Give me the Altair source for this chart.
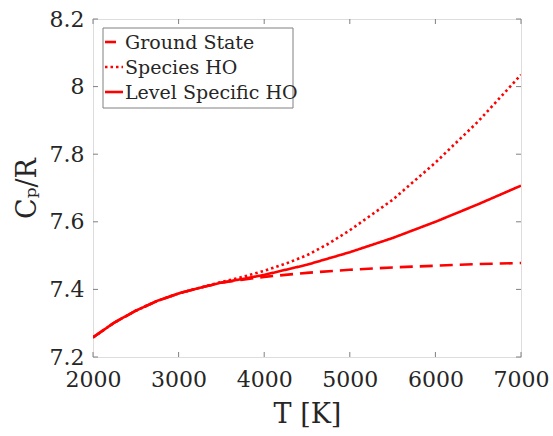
import altair as alt
import pandas as pd

# Data
T_common = [2000, 2250, 2500, 2750, 3000, 3250]
cp_common = [7.258, 7.302, 7.337, 7.366, 7.388, 7.405]

T_gs = [3500, 3750, 4000, 4500, 5000, 5500, 6000, 6500, 7000]
cp_gs = [7.420, 7.429, 7.437, 7.449, 7.458, 7.465, 7.470, 7.475, 7.478]

T_sp = [3500, 3750, 4000, 4250, 4500, 4750, 5000, 5500, 6000, 6500, 7000]
cp_sp = [7.422, 7.437, 7.455, 7.476, 7.501, 7.535, 7.575, 7.665, 7.775, 7.897, 8.035]

T_ls = [3500, 3750, 4000, 4500, 5000, 5500, 6000, 6500, 7000]
cp_ls = [7.420, 7.431, 7.443, 7.473, 7.510, 7.552, 7.600, 7.652, 7.707]

series = ["Ground State", "Species HO", "Level Specific HO"]
x_ticks = [2000, 3000, 4000, 5000, 6000, 7000]
y_ticks = [7.2, 7.4, 7.6, 7.8, 8.0, 8.2]

rows = []
for name, Ts, cps in zip(series, [T_gs, T_sp, T_ls], [cp_gs, cp_sp, cp_ls]):
    for t, c in zip(T_common + Ts, cp_common + cps):
        rows.append({"T": t, "Cp": c, "series": name})
df = pd.DataFrame(rows)

W, H = 428, 338
FONT = "DejaVu Serif"
GRAY = "#808080"
TXT = "#262626"
dashes = [[13, 7], [2.5, 3], [1, 0]]

xs = alt.Scale(domain=[2000, 7000], nice=False)
ys = alt.Scale(domain=[7.2, 8.2], nice=False)

xaxis = alt.Axis(values=x_ticks, title="T [K]", format="d",
                 tickSize=0, domain=False, grid=False,
                 labelFont=FONT, labelFontSize=22, labelColor=TXT,
                 labelPadding=12, labelFlush=False, labelOverlap=False,
                 titleFont=FONT, titleFontSize=27,
                 titleFontWeight="normal", titleColor=TXT, titlePadding=11)
yaxis = alt.Axis(values=y_ticks, title="Cₚ/R",
                 tickSize=0, domain=False, grid=False,
                 labelExpr="datum.value == 8 ? '8' : format(datum.value, '.1f')",
                 labelFont=FONT, labelFontSize=22, labelColor=TXT,
                 labelPadding=9, labelFlush=False, labelOverlap=False,
                 titleFont=FONT, titleFontSize=27,
                 titleFontWeight="normal", titleColor=TXT, titlePadding=8)

lines = alt.Chart(df).mark_line(strokeWidth=2.6, color="red", clip=True).encode(
    x=alt.X("T:Q", scale=xs, axis=xaxis),
    y=alt.Y("Cp:Q", scale=ys, axis=yaxis),
    strokeDash=alt.StrokeDash("series:N", sort=series,
                              scale=alt.Scale(domain=series, range=dashes),
                              legend=None),
    order=alt.Order("T:Q"),
)

tick_df = pd.DataFrame({"x": x_ticks})
ytick_df = pd.DataFrame({"y": y_ticks})
tl = 5
xb = alt.Chart(tick_df).mark_rule(color=GRAY, strokeWidth=1).encode(
    x=alt.X("x:Q", scale=xs, axis=xaxis), y=alt.value(H), y2=alt.value(H - tl))
xt = alt.Chart(tick_df).mark_rule(color=GRAY, strokeWidth=1).encode(
    x=alt.X("x:Q", scale=xs, axis=xaxis), y=alt.value(0), y2=alt.value(tl))
yl = alt.Chart(ytick_df).mark_rule(color=GRAY, strokeWidth=1).encode(
    y=alt.Y("y:Q", scale=ys, axis=yaxis), x=alt.value(0), x2=alt.value(tl))
yr = alt.Chart(ytick_df).mark_rule(color=GRAY, strokeWidth=1).encode(
    y=alt.Y("y:Q", scale=ys, axis=yaxis), x=alt.value(W), x2=alt.value(W - tl))

# Legend (drawn manually, top-left box)
one = pd.DataFrame({"a": [0]})
leg_layers = [
    alt.Chart(one).mark_rect(fill="white", stroke=GRAY, strokeWidth=1).encode(
        x=alt.value(10), x2=alt.value(200), y=alt.value(9), y2=alt.value(89))
]
row_y = [23, 48, 73]
leg_dash = [[11, 20], [2.5, 3], [1, 0]]
for name, dash, yc in zip(series, leg_dash, row_y):
    ldf = pd.DataFrame({"label": [name]})
    mk = {"color": "red", "strokeWidth": 2.6}
    if dash[1] > 0:
        mk["strokeDash"] = dash
    leg_layers.append(
        alt.Chart(ldf).mark_rule(**mk).encode(
            x=alt.value(12), x2=alt.value(30), y=alt.value(yc)))
    leg_layers.append(
        alt.Chart(ldf).mark_text(align="left", baseline="middle", font=FONT, fontSize=19,
                                 color=TXT).encode(
            text="label:N", x=alt.value(32), y=alt.value(yc + 1)))

chart = alt.layer(lines, xb, xt, yl, yr, *leg_layers).properties(
    width=W, height=H,
    autosize=alt.AutoSizeParams(type="none"),
    padding={"left": 93, "top": 19, "right": 32, "bottom": 79},
).configure_view(stroke=GRAY, strokeWidth=1).configure(background="white")

chart.save("out.html", embed_options={"renderer": "svg", "actions": False})
